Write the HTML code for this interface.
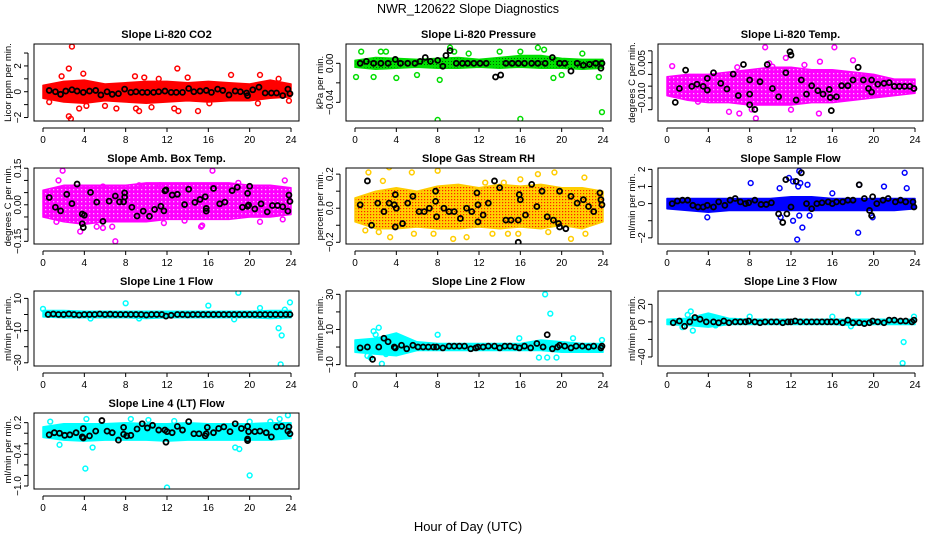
<!DOCTYPE html>
<html><head><meta charset="utf-8"><style>
html,body{margin:0;padding:0;background:#fff;}
svg{display:block;font-family:"Liberation Sans",sans-serif;}
</style></head><body>
<svg id="chart" width="936" height="540" viewBox="0 0 936 540" xmlns="http://www.w3.org/2000/svg">
<defs>
<pattern id="pRH" width="3" height="3" patternUnits="userSpaceOnUse"><rect width="3" height="3" fill="#ffd000"/><rect x="1" y="1" width="1.2" height="1.2" fill="#ff2000"/></pattern>
<pattern id="pPR" width="3" height="3" patternUnits="userSpaceOnUse"><rect width="3" height="3" fill="#00e000"/><rect x="1" y="1" width="1" height="1" fill="#006000"/></pattern>
<pattern id="pMG" width="4" height="4" patternUnits="userSpaceOnUse"><rect width="4" height="4" fill="#ff00ff"/><rect x="1" y="1" width="1.3" height="1.3" fill="#ffb0ff"/></pattern>
</defs>
<text x="468" y="13" font-size="12.5" text-anchor="middle">NWR_120622  Slope Diagnostics</text>
<text x="468" y="531" font-size="13" text-anchor="middle">Hour of Day (UTC)</text>
<g id="panels"></g>
</svg>
<script>
// ---- data ----
const bandHours = [0,2,4,6,8,10,12,14,16,18,20,22,24];
const co2Lo = [-0.5,-0.8,-0.9,-0.7,-0.8,-0.9,-0.8,-0.7,-0.8,-0.7,-0.7,-0.5,-0.4];
const co2Hi = [0.5,0.8,0.9,0.6,0.7,0.8,0.8,0.7,0.8,0.7,0.6,0.9,0.6];
const co2Out = [[2.8,3.5],[2.5,-1.9],[2.7,-2.1],[2.5,1.8],[1.8,1.2],[3.9,1.4],[3.5,-1.3],[6,-1.1],[7.1,-1.3],[9,-1.3],[9.3,-1.5],[10.5,-1.2],[13,1.8],[12.7,-1.3],[13.1,-1.5],[15,-1.5],[18.2,1.3],[21,1.3],[20.8,-0.9],[23.8,-0.7],[8.9,1.2],[11.2,1.0],[14,1.1],[22.8,1.0],[0.6,-0.8],[16.1,-0.9],[4.2,-1.1],[9.8,1.1]];
const co2Mean = [[0.6,0.1],[1.2,0],[1.7,-0.2],[2.2,0.05],[2.8,0.15],[3.3,0.05],[3.9,-0.05],[4.5,0.05],[5.1,0.1],[5.6,-0.25],[6.2,0],[6.7,-0.2],[7.3,-0.15],[7.9,0.2],[8.5,-0.05],[9,0],[9.6,-0.05],[10.1,-0.05],[10.7,-0.05],[11.2,0],[11.8,0.05],[12.4,-0.05],[12.9,-0.05],[13.5,-0.05],[14.1,0.25],[14.6,0],[15.2,0.05],[15.8,0.1],[16.3,-0.05],[16.9,0.2],[17.4,0.1],[18,-0.25],[18.6,0.05],[19.1,0],[19.7,-0.1],[19.8,-0.3],[20.3,0.15],[20.9,0.35],[21.5,-0.1],[22.1,-0.1],[22.6,-0.1],[23.2,-0.3],[23.7,0.2],[23.9,-0.15]];

const prLo = [-0.004,-0.006,-0.005,-0.004,-0.005,-0.005,-0.004,-0.005,-0.004,-0.005,-0.005,-0.006,-0.005];
const prHi = [0.003,0.006,0.005,0.004,0.005,0.006,0.004,0.006,0.008,0.008,0.005,0.004,0.004];
const prOut = [[8,-0.058],[16,-0.057],[23.9,-0.05],[0.1,-0.014],[0.6,0.012],[2.5,0.012],[3,0.012],[4,-0.015],[8.2,-0.017],[9.2,0.016],[9.6,0.012],[14,0.012],[16,0.012],[17.7,0.016],[18.3,0.014],[19.2,-0.015],[20,-0.012],[23.6,-0.014],[6,-0.012],[1.8,-0.014],[11,0.01],[22,0.01]];
const prMean = [[0.5,0],[1.1,0.002],[1.8,0],[2.5,0],[3.2,0],[3.9,0.004],[4.4,0],[5.1,0],[5.8,0],[6.3,0.002],[6.8,0.006],[7.3,0.002],[8,0.003],[8.5,-0.003],[8.8,0.008],[9.2,0.013],[9.8,0],[10.4,0],[10.9,0],[11.5,0],[12.1,0],[12.7,0],[13.6,-0.014],[14.1,-0.012],[14.6,0],[15.2,0],[15.8,0],[16.4,0],[17.1,0],[17.7,0],[18.4,0],[19.1,0.006],[19.8,0],[20.3,0],[20.9,-0.008],[21.5,0],[22.1,-0.002],[22.7,-0.001],[23.3,0],[23.8,-0.005],[23.9,0]];

const ltLo = [-0.009,-0.011,-0.012,-0.012,-0.013,-0.013,-0.013,-0.012,-0.012,-0.011,-0.010,-0.009,-0.008];
const ltHi = [-0.001,0.0,0.0,0.001,0.002,0.003,0.003,0.002,0.002,0.001,0.0,-0.002,-0.002];
const ltOut = [[9.5,0.0115],[16.2,0.0115],[11.5,0.007],[0.5,0.0035],[8.6,-0.0187],[7,-0.0166],[6,-0.0159],[12,-0.015],[14.7,-0.0166],[9.9,0.0047],[14.8,0.0054],[10.2,0.0033],[8.2,-0.0149],[3,-0.0116],[18,0.006],[23.8,-0.0067],[13.3,0.004],[6.8,0.003]];
const ltMean = [[0.8,-0.0119],[1.2,-0.006],[1.8,0.0018],[2.4,-0.0051],[2.9,-0.0042],[3.5,-0.0051],[3.9,-0.0017],[3.9,-0.0067],[4.5,0.0007],[5.2,-0.0038],[5.8,-0.0062],[6.4,0.0001],[6.9,-0.009],[7.4,0.0042],[8,-0.0024],[8,-0.0084],[8,-0.0129],[8.5,-0.0149],[9,-0.0031],[9.7,0.0042],[10.2,-0.006],[10.8,-0.0095],[11.5,0.0007],[11.9,0.0096],[12,0.0082],[12.5,-0.0109],[13,-0.0024],[13.5,-0.0084],[14,-0.0048],[14.6,-0.0069],[15.1,-0.0084],[15.7,-0.0064],[15.8,-0.0098],[15.9,-0.0154],[16.4,-0.0095],[16.9,-0.0048],[17.5,-0.0048],[18,-0.0024],[18.5,0.003],[19,-0.0024],[19.5,-0.006],[19.8,-0.0024],[19.8,-0.0075],[20.4,-0.0042],[21,-0.0038],[21.5,-0.0035],[22,-0.0051],[22.5,-0.0051],[23,-0.0051],[23.5,-0.0051],[23.9,-0.006]];

const abLo = [-0.05,-0.07,-0.08,-0.07,-0.07,-0.07,-0.06,-0.06,-0.06,-0.06,-0.05,-0.05,-0.04];
const abHi = [0.06,0.08,0.08,0.08,0.08,0.09,0.09,0.09,0.09,0.09,0.08,0.08,0.07];
const abOut = [[1.9,0.14],[16.4,0.14],[7,-0.15],[1.5,0.1],[5.8,0.075],[11.3,0.08],[23.4,0.1],[1.3,-0.07],[5.2,-0.09],[5.8,-0.095],[6.7,-0.09],[15.3,-0.09],[15.4,-0.085],[21,-0.07],[23.2,-0.06],[3.6,-0.11],[11.7,-0.075],[18.9,0.09],[9.3,0.08],[13.7,-0.065]];
const abMean = [[0.6,0.03],[1.2,-0.01],[1.7,-0.025],[2.3,0.043],[2.8,0.005],[3.3,0.085],[3.8,-0.038],[3.8,-0.078],[3.9,-0.093],[4,-0.043],[4.6,0.051],[5.2,0.011],[5.8,-0.068],[6.4,0.015],[7,0.036],[7.4,0.012],[7.8,0.012],[7.9,0.049],[7.9,0.032],[8.6,-0.01],[9.1,-0.046],[9.7,-0.026],[10.3,-0.047],[10.8,-0.019],[11.4,-0.006],[11.7,-0.025],[11.8,0.057],[11.9,0.061],[12.5,0.04],[13,0.043],[13.7,0.001],[14.1,0.064],[14.7,0.01],[15.2,0.022],[15.7,0.033],[15.8,-0.015],[15.8,-0.026],[16.5,0.067],[17.1,0.004],[17.6,0.011],[18.3,0.058],[18.8,0.072],[19.3,-0.01],[19.8,-0.006],[19.8,0.047],[19.9,-0.001],[20,0.076],[20.5,-0.017],[21.1,0.004],[21.7,-0.029],[22.2,-0.003],[22.7,-0.003],[23.2,-0.008],[23.7,-0.026],[23.8,0.04],[23.9,0.014]];

const rhLo = [-0.08,-0.12,-0.12,-0.11,-0.12,-0.12,-0.11,-0.12,-0.11,-0.12,-0.1,-0.12,-0.08];
const rhHi = [0.06,0.1,0.12,0.1,0.13,0.14,0.12,0.14,0.13,0.14,0.12,0.12,0.1];
const rhOut = [[1.3,0.21],[3.3,0.24],[5.5,0.21],[8,0.22],[16,0.17],[17.7,0.2],[19.3,0.21],[22.2,0.18],[3.4,-0.17],[5.7,-0.15],[7.6,-0.15],[9.5,-0.18],[10.8,-0.17],[13.3,-0.15],[14.8,-0.15],[15.8,-0.15],[20.9,-0.18],[22.3,-0.15],[1,-0.13],[2.3,-0.14],[18.7,-0.14],[12.6,0.15],[14.4,0.15],[2.7,0.16]];
const rhMean = [[0.5,0.02],[1.2,0.16],[1.6,-0.1],[2.2,0.03],[2.8,-0.02],[3.3,0.03],[3.8,0.02],[3.9,-0.11],[3.9,0.08],[4,0],[4.6,-0.09],[5.1,0.03],[5.6,0.07],[6.2,-0.02],[6.7,-0.02],[7.2,0],[7.8,0.1],[7.8,0.04],[7.9,-0.05],[8.6,0],[9.1,-0.02],[9.6,-0.02],[10.2,-0.06],[10.8,0],[11.3,-0.02],[11.8,0.09],[11.9,0.02],[11.9,-0.08],[12.4,-0.04],[12.9,0.03],[13.5,0.16],[14,0.12],[14.6,-0.07],[15.1,-0.07],[15.8,-0.2],[15.8,-0.07],[15.9,0.08],[16,0.05],[16.5,-0.04],[17.1,0.14],[17.6,0.01],[18.1,0.1],[18.6,-0.05],[19.2,-0.07],[19.7,-0.09],[19.8,0.1],[19.8,-0.11],[20.4,-0.12],[20.9,0.07],[21.5,0.03],[22.1,0.05],[22.6,0.01],[23.1,-0.02],[23.7,0.09],[23.8,0.05],[23.9,0.02]];

const sfLo = [-0.3,-0.4,-0.5,-0.4,-0.4,-0.4,-0.4,-0.4,-0.4,-0.4,-0.4,-0.4,-0.3];
const sfHi = [0.3,0.3,0.3,0.3,0.3,0.3,0.4,0.4,0.3,0.3,0.3,0.3,0.3];
const sfOut = [[8.1,1.2],[10.9,0.9],[11.8,1.5],[12.2,1.3],[12.8,1.9],[12.9,1.2],[12.7,1],[13.6,1.1],[16,0.6],[18.6,1.1],[21,1],[23,1.8],[23.2,0.9],[3.9,-0.8],[12.6,-2.1],[13.1,-1.4],[11,-0.8],[12.2,-1.0],[18.5,-1.7],[12.8,-0.7],[13.8,-0.7],[19.9,-0.8]];
const sfMean = [[0.5,0],[1,0.15],[1.5,0.2],[2,0.2],[2.5,-0.1],[3,-0.2],[3.5,-0.2],[3.9,-0.1],[4.5,-0.2],[5,0.1],[5.6,-0.1],[6.1,0.2],[6.6,0.3],[7.1,0.1],[7.6,0],[7.9,0.05],[8.5,0.2],[9.1,-0.05],[9.6,-0.05],[10.1,0.05],[10.8,-0.6],[11.2,-1.1],[11.5,1.4],[11.6,-0.6],[12,-0.2],[12.5,1.3],[13,1.8],[13.5,0],[14,-0.3],[14.5,0],[15,0.05],[15.6,0.1],[16,0],[16.4,0.1],[17,0.1],[17.5,0.2],[18,0.2],[18.6,1.1],[19.1,0.3],[19.6,-0.4],[19.8,-0.7],[19.9,0.4],[20.3,0],[20.9,0.2],[21.4,0.3],[22.1,0.1],[22.6,0.2],[23.1,0.1],[23.8,0.1],[23.9,-0.2]];

const l1Lo = [-1.5,-2,-2,-2,-2,-2.5,-2,-2,-2,-2,-2,-2.5,-2];
const l1Hi = [2.5,2.5,2,2,2,2,2,2,2,2,2,2.5,2.5];
const l1Out = [[0,3.5],[8,7],[16,5.5],[18.9,13.5],[21,4],[23.9,7.5],[22.8,-8.5],[23.1,-13],[23,-31],[23.4,3],[18.5,-3],[9.3,-2.5],[4.6,-2.5]];
const l1Mean = [[0.5,0],[1,0.3],[1.5,0],[2,0],[2.5,0.3],[3,0],[3.5,-0.3],[4,0],[4.5,0],[5,0],[5.5,0.3],[6,0],[6.5,0.2],[7,0],[7.5,0],[8,0],[8.5,0],[9,0],[9.5,0],[10,-0.3],[10.5,0],[11,0],[11.5,0],[11.9,-1],[12.4,-0.5],[13,0],[13.5,0],[14,-0.2],[14.5,0],[15,0],[15.5,0],[16,0],[16.5,0],[17,0],[17.5,0],[18,0],[18.5,0],[19,0],[19.5,0],[20,0],[20.5,0],[21,0],[21.5,0],[22,0],[22.5,0],[23,0],[23.5,0],[23.9,0]];

const l2Lo = [-3,-4,-5,-2,-2,-2,-2,-2,-2,-2,-3,-3,-3];
const l2Hi = [4,5,8,3,2,2,2,2,2,4,3,2,2];
const l2Out = [[18.4,30],[18.9,19],[2.3,11],[2.6,-9.5],[8,7],[15.9,5],[21.1,5],[23.9,4],[17.8,-6],[18.6,-6],[1.2,-5],[1.5,-6],[2,7],[1.8,9],[19.5,-6],[3,-4]];
const l2Mean = [[0.5,-0.5],[1.2,0],[1.7,-7],[2.3,0],[2.8,5],[3.2,3],[3.8,0],[3.9,-0.5],[4.5,1],[5,-1],[5.6,1],[6.1,0],[6.6,0],[7.1,0],[7.6,0],[7.9,0],[8.5,-0.5],[9.1,0.5],[9.6,0.5],[10.1,0.5],[10.6,0.5],[11.2,-1],[11.7,-0.5],[11.9,0],[12.4,0],[12.9,0.5],[13.5,0.5],[14,-0.5],[14.5,0.5],[15,0.5],[15.5,0],[15.9,-0.5],[16.4,0.5],[17,-0.5],[17.6,2],[18.2,0],[18.6,7],[19.1,-1],[19.6,0],[19.8,1],[20.3,0.5],[20.9,-0.5],[21.4,0.5],[22,0.5],[22.6,0],[23.1,0.5],[23.8,-0.5],[23.9,0.5]];

const l3Lo = [-3,-4,-6,-3,-3,-3,-3,-3,-3,-4,-3,-3,-3];
const l3Hi = [3,4,10,4,3,3,3,3,3,3,3,3,3];
const l3Out = [[18.5,33],[22.9,-23],[22.8,-47],[2.5,-10],[1.5,-6],[2.3,12],[8,6],[16,6],[23.9,6],[4.7,-4],[17.8,-5],[2,8]];
const l3Mean = [[0.6,-1],[1.2,1],[1.7,-5],[2.2,0],[2.7,5],[3.2,3],[3.8,0],[4.5,0],[5,-1],[5.5,1],[6,-1],[6.6,0],[7.1,0],[7.6,0],[7.9,1],[8.5,0],[9,-1],[9.5,0],[10.1,0],[10.6,0],[11.2,-1],[11.7,0],[12,0],[12.4,1],[12.9,0],[13.5,0],[14,0],[14.5,0],[15,0],[15.5,0],[15.9,0],[16.4,0],[17,-1],[17.5,2],[18,-1],[18.6,-1],[19.1,-2],[19.6,-1],[19.9,1],[20.4,0],[21,-1],[21.5,2],[22,2],[22.6,1],[23.1,1],[23.7,0],[23.9,2]];

const l4Lo = [-0.08,-0.13,-0.15,-0.13,-0.13,-0.13,-0.15,-0.13,-0.13,-0.13,-0.13,-0.13,-0.1];
const l4Hi = [0.12,0.18,0.18,0.18,0.2,0.18,0.18,0.2,0.18,0.18,0.18,0.2,0.2];
const l4Out = [[4.1,-0.67],[12,-1.03],[20,-0.8],[4.8,-0.27],[18.6,-0.27],[19,-0.3],[0.7,0.22],[4.2,0.27],[8.5,0.27],[10.2,0.25],[12.7,0.23],[22.9,0.27],[23.7,0.34],[1.6,-0.22],[20,0.22],[22,0.22]];
const l4Mean = [[0.6,-0.03],[1.1,0.01],[1.6,0],[2.1,-0.04],[2.6,-0.03],[3.2,0.01],[3.8,-0.07],[3.9,0.09],[3.9,-0.09],[4.5,-0.05],[5.1,0.04],[5.7,0.24],[6.2,0.04],[6.7,0.01],[7.3,-0.13],[7.8,0.11],[7.8,-0.02],[8.1,-0.05],[8.5,-0.04],[9.1,0.08],[9.6,0.18],[10.1,0.1],[10.6,0.15],[11.2,0.06],[11.8,0.06],[11.9,-0.17],[12,0.03],[12.5,0.01],[13,0.13],[13.5,0.06],[14.1,0.22],[14.6,-0.01],[15.1,-0.01],[15.7,-0.05],[15.8,-0.01],[15.9,0.11],[16.5,0.01],[17,0.09],[17.5,0.12],[18.1,0.03],[18.6,0.18],[19.2,0.09],[19.8,-0.11],[19.8,-0.14],[19.8,0.13],[19.9,0.03],[20.5,0.03],[21,0.04],[21.6,0.01],[22.1,-0.07],[22.6,0.12],[23.1,0.13],[23.7,0.04],[23.8,0.12],[23.9,-0.01]];

const xTicks = [0,4,8,12,16,20,24];

// ---- layout ----
const colX = [34,346,658];
const rowY = [[44,121],[168,244],[291,366],[413,489]];
const panels = [
 {name:'co2',title:'Slope Li-820 CO2',ylab:'Licor ppm per min.',c:0,r:0,ylim:[-2.27,3.7],ticks:[-2,-1,0,1,2,3],labs:{'-2':'-2','0':'0','2':'2'},lo:co2Lo,hi:co2Hi,out:co2Out,mean:co2Mean,col:'#ff0000',fill:'#ff0000'},
 {name:'pressure',title:'Slope Li-820 Pressure',ylab:'kPa per min.',c:1,r:0,ylim:[-0.0591,0.0198],ticks:[-0.04,-0.02,0],labs:{'-0.04':'-0.04','0':'0.00'},lo:prLo,hi:prHi,out:prOut,mean:prMean,col:'#00dd00',fill:'url(#pPR)'},
 {name:'li-temp',title:'Slope Li-820 Temp.',ylab:'degrees C per min.',c:2,r:0,ylim:[-0.0198,0.0129],ticks:[0.01,0.005,0,-0.005,-0.01,-0.015],labs:{'0.005':'0.005','-0.01':'-0.010'},lo:ltLo,hi:ltHi,out:ltOut,mean:ltMean,col:'#ff00ff',fill:'url(#pMG)'},
 {name:'amb-box-temp',title:'Slope Amb. Box Temp.',ylab:'degrees C per min.',c:0,r:1,ylim:[-0.161,0.151],ticks:[-0.15,-0.1,-0.05,0,0.05,0.1,0.15],labs:{'-0.15':'-0.15','0':'0.00','0.15':'0.15'},lo:abLo,hi:abHi,out:abOut,mean:abMean,col:'#ff00ff',fill:'url(#pMG)'},
 {name:'gas-stream-rh',title:'Slope Gas Stream RH',ylab:'percent per min.',c:1,r:1,ylim:[-0.21,0.236],ticks:[-0.2,-0.1,0,0.1,0.2],labs:{'-0.2':'-0.2','0':'0.0','0.2':'0.2'},lo:rhLo,hi:rhHi,out:rhOut,mean:rhMean,col:'#ffcc00',fill:'url(#pRH)'},
 {name:'sample-flow',title:'Slope Sample Flow',ylab:'ml/min per min.',c:2,r:1,ylim:[-2.36,2.08],ticks:[-2,-1,0,1,2],labs:{'-2':'-2','0':'0','1':'1','2':'2'},lo:sfLo,hi:sfHi,out:sfOut,mean:sfMean,col:'#0000ff',fill:'#0000ff'},
 {name:'line1-flow',title:'Slope Line 1 Flow',ylab:'ml/min per min.',c:0,r:2,ylim:[-32,14.6],ticks:[-30,-20,-10,0,10],labs:{'-30':'-30','-10':'-10','10':'10'},lo:l1Lo,hi:l1Hi,out:l1Out,mean:l1Mean,col:'#00ffff',fill:'#00ffff'},
 {name:'line2-flow',title:'Slope Line 2 Flow',ylab:'ml/min per min.',c:1,r:2,ylim:[-10.8,31.9],ticks:[-10,0,10,20,30],labs:{'-10':'-10','10':'10','30':'30'},lo:l2Lo,hi:l2Hi,out:l2Out,mean:l2Mean,col:'#00ffff',fill:'#00ffff'},
 {name:'line3-flow',title:'Slope Line 3 Flow',ylab:'ml/min per min.',c:2,r:2,ylim:[-50.3,35.2],ticks:[-40,-20,0,20],labs:{'-40':'-40','0':'0','20':'20'},lo:l3Lo,hi:l3Hi,out:l3Out,mean:l3Mean,col:'#00ffff',fill:'#00ffff'},
 {name:'line4-flow',title:'Slope Line 4 (LT) Flow',ylab:'ml/min per min.',c:0,r:3,ylim:[-1.057,0.383],ticks:[0.2,0,-0.2,-0.4,-0.6,-0.8,-1.0],labs:{'0.2':'0.2','-0.4':'-0.4','-1':'-1.0'},lo:l4Lo,hi:l4Hi,out:l4Out,mean:l4Mean,col:'#00ffff',fill:'#00ffff'}
];

const NS='http://www.w3.org/2000/svg';
const root=document.getElementById('panels');
function mk(tag,attrs,parent){const e=document.createElementNS(NS,tag);for(const k in attrs)e.setAttribute(k,attrs[k]);parent.appendChild(e);return e;}

panels.forEach(p=>{
  const L=colX[p.c], R=L+265, T=rowY[p.r][0], B=rowY[p.r][1];
  const x0=L+9, x1=L+257;
  const sx=h=>x0+(x1-x0)*h/24;
  const sy=v=>B-(B-T)*(v-p.ylim[0])/(p.ylim[1]-p.ylim[0]);
  const g=mk('g',{},root);
  
  
  const t=mk('text',{x:(L+R)/2,y:T-6,'font-size':'11','font-weight':'bold','text-anchor':'middle'},g);
  t.textContent=p.title;
  
  
  const yl=mk('text',{x:0,y:0,'font-size':'9.5','text-anchor':'middle',transform:`translate(${L-23},${(T+B)/2}) rotate(-90)`},g);
  yl.textContent=p.ylab;
  
  
  const cp=mk('clipPath',{id:'clip-'+p.name},g);
  mk('rect',{x:L,y:T,width:R-L,height:B-T},cp);
  const plot=mk('g',{'clip-path':`url(#clip-${p.name})`},g);
  let d='';
  bandHours.forEach((h,i)=>{d+=(i?'L':'M')+sx(h).toFixed(1)+','+sy(p.hi[i]).toFixed(1);});
  for(let i=bandHours.length-1;i>=0;i--){d+='L'+sx(bandHours[i]).toFixed(1)+','+sy(p.lo[i]).toFixed(1);}
  const band=mk('path',{d:d+'Z',fill:p.fill,stroke:p.col,'stroke-width':'1.5','stroke-linejoin':'round'},plot);
  
  
  p.out.forEach(pt=>{
    const c=mk('circle',{cx:sx(pt[0]),cy:sy(pt[1]),r:2.4,fill:'none',stroke:p.col,'stroke-width':'1.5'},plot);
    
    
  });
  p.mean.forEach(pt=>{
    const c=mk('circle',{cx:sx(pt[0]),cy:sy(pt[1]),r:2.5,fill:'none',stroke:'#000','stroke-width':'1.8'},plot);
    
    
  });
  const box=mk('rect',{x:L,y:T,width:R-L,height:B-T,fill:'none',stroke:'#000','stroke-width':'1'},g);
  
  
  mk('line',{x1:sx(0),x2:sx(24),y1:B+7,y2:B+7,stroke:'#000'},g);
  xTicks.forEach(h=>{
    mk('line',{x1:sx(h),x2:sx(h),y1:B+7,y2:B+11,stroke:'#000'},g);
    const tl=mk('text',{x:sx(h),y:B+22,'font-size':'10','text-anchor':'middle'},g);
    tl.textContent=h;
    
    
  });
  const yt=p.ticks.filter(v=>v>=p.ylim[0]&&v<=p.ylim[1]);
  mk('line',{x1:L-6,x2:L-6,y1:sy(Math.min(...yt)),y2:sy(Math.max(...yt)),stroke:'#000'},g);
  yt.forEach(v=>{
    mk('line',{x1:L-10,x2:L-6,y1:sy(v),y2:sy(v),stroke:'#000'},g);
    const key=String(v);
    if(p.labs[key]!==undefined){
      const yl2=mk('text',{x:0,y:0,'font-size':'10','text-anchor':'middle',transform:`translate(${L-13},${sy(v)}) rotate(-90)`},g);
      yl2.textContent=p.labs[key].replace('-','\u2212');
      
      
    }
  });
});
</script>
</body></html>
